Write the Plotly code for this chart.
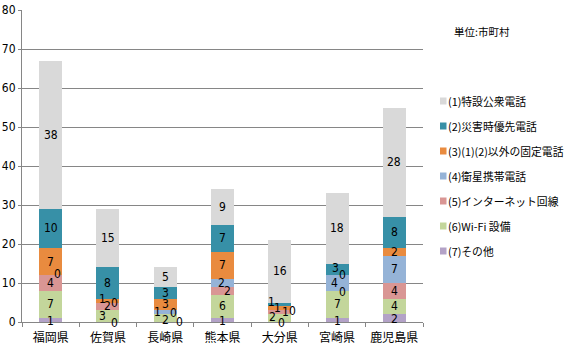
import plotly.graph_objects as go

# ---- data ----
prefectures = ["福岡県", "佐賀県", "長崎県", "熊本県", "大分県", "宮崎県", "鹿児島県"]
# series listed bottom (7) to top (1) of the stack
series_names = ["(7)その他", "(6)Wi-Fi 設備", "(5)インターネット回線", "(4)衛星携帯電話",
                "(3)(1)(2)以外の固定電話", "(2)災害時優先電話", "(1)特設公衆電話"]
s7_other = [1, 0, 0, 1, 0, 1, 2]
s6_wifi = [7, 3, 2, 6, 2, 7, 4]
s5_internet = [4, 2, 0, 2, 1, 0, 4]
s4_satellite = [0, 0, 1, 2, 0, 4, 7]
s3_fixed = [7, 1, 3, 7, 1, 0, 2]
s2_priority = [10, 8, 3, 7, 1, 3, 8]
s1_special = [38, 15, 5, 9, 16, 18, 28]
series_values = [s7_other, s6_wifi, s5_internet, s4_satellite, s3_fixed, s2_priority, s1_special]
y_ticks = [0, 10, 20, 30, 40, 50, 60, 70, 80]
unit_note = "単位:市町村"

# ---- style ----
colors = ["#b3a2c7", "#c3d69b", "#d99694", "#95b3d7", "#e98b3f", "#3790a7", "#d9d9d9"]
num_font = dict(family="Liberation Sans Narrow, DejaVu Sans Condensed, Liberation Sans", size=12, color="#000000")
jp_font = "Noto Sans CJK JP"
# label pixel nudges (dx, dy) per prefecture per series (bottom->top), mimicking the original overlap avoidance
nudges = [
    [(0, -1), (0, 0), (0, 0), (7, 1), (0, 0), (0, 0), (0, 0)],
    [(7, -1), (-5, 0), (0, 0), (7, 0), (-5, 2), (0, 0), (0, 0)],
    [(14, 0), (0, -2), (8, 1), (-8, 0), (0, 0), (0, 0), (0, 0)],
    [(0, -1), (0, 0), (5, 0), (-1, 0), (0, 0), (0, 0), (0, 0)],
    [(2, -1), (-7, 1), (6, 0), (13, -1), (-2, 0), (-8, 2), (0, 0)],
    [(0, -1), (0, 0), (5, -1), (-3, 0), (5, 0), (-2, 1), (0, 0)],
    [(0, -1), (0, 0), (0, 0), (0, 0), (0, 0), (0, 0), (0, 0)],
]

W, H = 570, 350
ML, MR, MT, MB = 22, 147, 10, 28
pw, ph = W - ML - MR, H - MT - MB

fig = go.Figure()
for name, vals, col in zip(series_names, series_values, colors):
    fig.add_trace(go.Bar(x=prefectures, y=vals, name=name, marker=dict(color=col, line=dict(width=0)),
                         width=0.4, showlegend=False, hoverinfo="x+y+name"))

annotations = []
for i, pref in enumerate(prefectures):
    base = 0
    for j, vals in enumerate(series_values):
        v = vals[i]
        mid = base + v / 2
        dx, dy = nudges[i][j]
        annotations.append(dict(x=pref, y=mid, xref="x", yref="y", text=str(v), showarrow=False,
                                xshift=dx, yshift=dy, font=num_font))
        base += v

# manual legend, (1) at top
def px_to_paper_x(px):
    return (px - ML) / pw

def px_to_paper_y(py):
    return (H - MB - py) / ph

shapes = []
for k, idx in enumerate(range(len(series_names) - 1, -1, -1)):
    cy = 101 + 25 * k
    shapes.append(dict(type="rect", xref="paper", yref="paper",
                       x0=px_to_paper_x(440), x1=px_to_paper_x(446.5),
                       y0=px_to_paper_y(cy + 3.5), y1=px_to_paper_y(cy - 3.5),
                       fillcolor=colors[idx], line=dict(width=0)))
    annotations.append(dict(x=px_to_paper_x(446), y=px_to_paper_y(cy), xref="paper", yref="paper",
                            text=series_names[idx], showarrow=False, xanchor="left", yanchor="middle",
                            font=dict(family=jp_font, size=10.8, color="#000000")))

annotations.append(dict(x=px_to_paper_x(452), y=px_to_paper_y(32), xref="paper", yref="paper",
                        text=unit_note, showarrow=False, xanchor="left", yanchor="middle",
                        font=dict(family=jp_font, size=10.5, color="#000000")))

fig.update_layout(
    barmode="stack",
    width=W, height=H,
    margin=dict(l=ML, r=MR, t=MT, b=MB, pad=0, autoexpand=False),
    paper_bgcolor="#ffffff", plot_bgcolor="#ffffff",
    showlegend=False,
    annotations=annotations,
    shapes=shapes,
    xaxis=dict(showline=True, linecolor="#868686", linewidth=1, ticks="outside", tickson="boundaries",
               ticklen=4, tickcolor="#868686", showgrid=False, tickangle=0, automargin=False,
               ticklabelstandoff=5,
               tickfont=dict(family=jp_font, size=12, color="#000000")),
    yaxis=dict(range=[0, 80], tickvals=y_ticks, showline=True, linecolor="#868686", linewidth=1,
               ticks="outside", ticklen=3, tickcolor="#868686", showgrid=True, gridcolor="#868686",
               gridwidth=1, zeroline=False, automargin=False,
               tickfont=dict(family="Liberation Sans Narrow, DejaVu Sans Condensed, Liberation Sans",
                             size=12, color="#000000")),
)

fig.write_html("out.html")
